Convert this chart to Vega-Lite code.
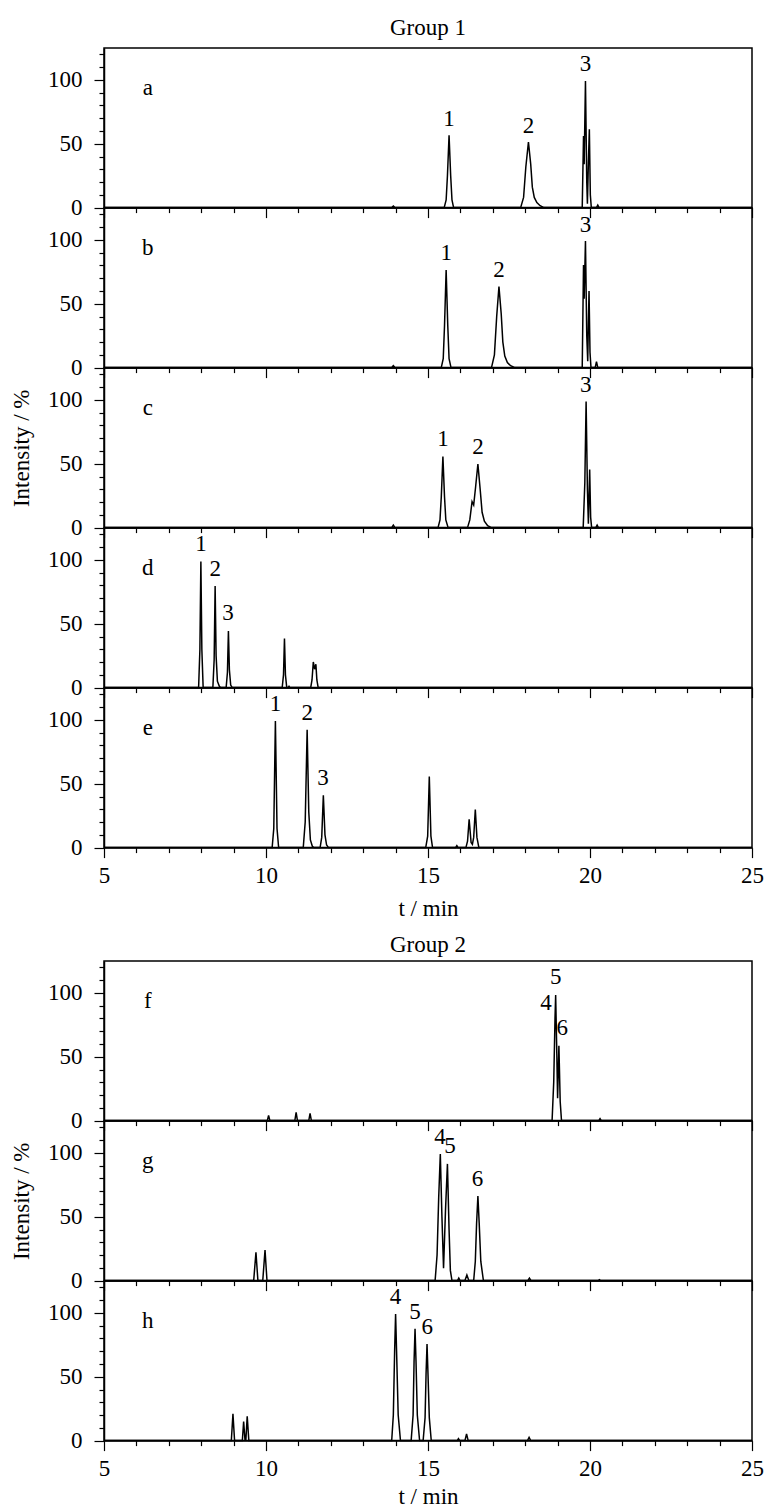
{
"$schema": "https://vega.github.io/schema/vega-lite/v6.json",
"padding": {"left": 9, "top": 16, "right": 5, "bottom": 2},
"config": {
 "font": "Liberation Serif",
 "view": {"stroke": "black", "strokeWidth": 1.5},
 "axis": {"grid": false, "domainColor": "black", "domainWidth": 1.5, "tickColor": "black", "tickWidth": 1.2, "labelColor": "black", "labelFont": "Liberation Serif", "labelFontSize": 23, "titleFont": "Liberation Serif", "titleFontSize": 23, "titleFontWeight": "normal", "titleColor": "black", "labelFlush": false, "labelOverlap": false, "labelBound": false},
 "title": {"font": "Liberation Serif", "fontSize": 23, "fontWeight": "normal", "color": "black"},
 "text": {"font": "Liberation Serif", "fontSize": 23, "color": "black"}
},
"datasets": {
 "trace": [
  {"p":"a","t":5,"y":0},{"p":"a","t":13.88,"y":0},{"p":"a","t":13.93,"y":1.2},{"p":"a","t":13.98,"y":0},{"p":"a","t":15.5,"y":0},{"p":"a","t":15.56,"y":6},{"p":"a","t":15.6,"y":25},{"p":"a","t":15.65,"y":56.7},{"p":"a","t":15.7,"y":25},{"p":"a","t":15.74,"y":6},{"p":"a","t":15.79,"y":0},{"p":"a","t":17.86,"y":0},{"p":"a","t":17.95,"y":8},{"p":"a","t":18.02,"y":32},{"p":"a","t":18.1,"y":51.4},{"p":"a","t":18.17,"y":34},{"p":"a","t":18.22,"y":16},{"p":"a","t":18.28,"y":8},{"p":"a","t":18.36,"y":4},{"p":"a","t":18.46,"y":1.5},{"p":"a","t":18.58,"y":0},{"p":"a","t":19.76,"y":0},{"p":"a","t":19.8,"y":56},{"p":"a","t":19.82,"y":34},{"p":"a","t":19.86,"y":99.2},{"p":"a","t":19.9,"y":20},{"p":"a","t":19.92,"y":3},{"p":"a","t":19.95,"y":35},{"p":"a","t":19.98,"y":61.4},{"p":"a","t":20.01,"y":10},{"p":"a","t":20.04,"y":0},{"p":"a","t":20.2,"y":0},{"p":"a","t":20.24,"y":2},{"p":"a","t":20.28,"y":0},{"p":"a","t":25,"y":0},
  {"p":"b","t":5,"y":0},{"p":"b","t":13.88,"y":0},{"p":"b","t":13.93,"y":1.5},{"p":"b","t":13.98,"y":0},{"p":"b","t":15.41,"y":0},{"p":"b","t":15.47,"y":7},{"p":"b","t":15.51,"y":33},{"p":"b","t":15.56,"y":76.5},{"p":"b","t":15.61,"y":33},{"p":"b","t":15.65,"y":7},{"p":"b","t":15.71,"y":0},{"p":"b","t":16.96,"y":0},{"p":"b","t":17.05,"y":10},{"p":"b","t":17.12,"y":40},{"p":"b","t":17.19,"y":63.4},{"p":"b","t":17.26,"y":42},{"p":"b","t":17.31,"y":20},{"p":"b","t":17.37,"y":9},{"p":"b","t":17.45,"y":4},{"p":"b","t":17.55,"y":1.5},{"p":"b","t":17.68,"y":0},{"p":"b","t":19.76,"y":0},{"p":"b","t":19.8,"y":80.4},{"p":"b","t":19.82,"y":54},{"p":"b","t":19.86,"y":99.2},{"p":"b","t":19.9,"y":25},{"p":"b","t":19.93,"y":5},{"p":"b","t":19.95,"y":35},{"p":"b","t":19.97,"y":60},{"p":"b","t":20.0,"y":12},{"p":"b","t":20.03,"y":0},{"p":"b","t":20.16,"y":0},{"p":"b","t":20.2,"y":4.7},{"p":"b","t":20.24,"y":0},{"p":"b","t":25,"y":0},
  {"p":"c","t":5,"y":0},{"p":"c","t":13.88,"y":0},{"p":"c","t":13.93,"y":2},{"p":"c","t":13.98,"y":0},{"p":"c","t":15.31,"y":0},{"p":"c","t":15.37,"y":6},{"p":"c","t":15.41,"y":24},{"p":"c","t":15.46,"y":55.6},{"p":"c","t":15.51,"y":24},{"p":"c","t":15.55,"y":6},{"p":"c","t":15.62,"y":0},{"p":"c","t":16.22,"y":0},{"p":"c","t":16.29,"y":6},{"p":"c","t":16.36,"y":20.4},{"p":"c","t":16.41,"y":17.7},{"p":"c","t":16.47,"y":32},{"p":"c","t":16.54,"y":49.8},{"p":"c","t":16.61,"y":30},{"p":"c","t":16.67,"y":12},{"p":"c","t":16.74,"y":5},{"p":"c","t":16.84,"y":1.5},{"p":"c","t":16.96,"y":0},{"p":"c","t":19.79,"y":0},{"p":"c","t":19.84,"y":35},{"p":"c","t":19.88,"y":98.7},{"p":"c","t":19.92,"y":30},{"p":"c","t":19.95,"y":3},{"p":"c","t":19.99,"y":45.4},{"p":"c","t":20.02,"y":8},{"p":"c","t":20.05,"y":0},{"p":"c","t":20.18,"y":0},{"p":"c","t":20.22,"y":2},{"p":"c","t":20.26,"y":0},{"p":"c","t":25,"y":0},
  {"p":"d","t":5,"y":0},{"p":"d","t":7.92,"y":0},{"p":"d","t":7.96,"y":30},{"p":"d","t":7.99,"y":98.7},{"p":"d","t":8.02,"y":30},{"p":"d","t":8.06,"y":0},{"p":"d","t":8.36,"y":0},{"p":"d","t":8.4,"y":22},{"p":"d","t":8.43,"y":79.6},{"p":"d","t":8.46,"y":25},{"p":"d","t":8.5,"y":5},{"p":"d","t":8.56,"y":1},{"p":"d","t":8.6,"y":0},{"p":"d","t":8.77,"y":0},{"p":"d","t":8.81,"y":12},{"p":"d","t":8.84,"y":44.4},{"p":"d","t":8.87,"y":14},{"p":"d","t":8.91,"y":2},{"p":"d","t":8.96,"y":0},{"p":"d","t":10.5,"y":0},{"p":"d","t":10.54,"y":10},{"p":"d","t":10.57,"y":38.4},{"p":"d","t":10.6,"y":10},{"p":"d","t":10.64,"y":0},{"p":"d","t":10.68,"y":0},{"p":"d","t":10.71,"y":1},{"p":"d","t":10.74,"y":0},{"p":"d","t":11.38,"y":0},{"p":"d","t":11.42,"y":6},{"p":"d","t":11.46,"y":20.1},{"p":"d","t":11.5,"y":14.4},{"p":"d","t":11.54,"y":18.3},{"p":"d","t":11.57,"y":6},{"p":"d","t":11.61,"y":0},{"p":"d","t":25,"y":0},
  {"p":"e","t":5,"y":0},{"p":"e","t":10.19,"y":0},{"p":"e","t":10.24,"y":15},{"p":"e","t":10.29,"y":99.2},{"p":"e","t":10.34,"y":15},{"p":"e","t":10.39,"y":0},{"p":"e","t":11.15,"y":0},{"p":"e","t":11.21,"y":20},{"p":"e","t":11.27,"y":92.2},{"p":"e","t":11.32,"y":28},{"p":"e","t":11.37,"y":6},{"p":"e","t":11.43,"y":1},{"p":"e","t":11.48,"y":0},{"p":"e","t":11.67,"y":0},{"p":"e","t":11.72,"y":8},{"p":"e","t":11.77,"y":41},{"p":"e","t":11.82,"y":10},{"p":"e","t":11.87,"y":2},{"p":"e","t":11.93,"y":0},{"p":"e","t":14.93,"y":0},{"p":"e","t":14.99,"y":9},{"p":"e","t":15.04,"y":55.6},{"p":"e","t":15.09,"y":9},{"p":"e","t":15.14,"y":0},{"p":"e","t":15.85,"y":0},{"p":"e","t":15.89,"y":1.5},{"p":"e","t":15.93,"y":0},{"p":"e","t":16.17,"y":0},{"p":"e","t":16.22,"y":5},{"p":"e","t":16.27,"y":22.2},{"p":"e","t":16.33,"y":4},{"p":"e","t":16.37,"y":2.6},{"p":"e","t":16.41,"y":8},{"p":"e","t":16.46,"y":29.8},{"p":"e","t":16.51,"y":8},{"p":"e","t":16.57,"y":0},{"p":"e","t":25,"y":0},
  {"p":"f","t":5,"y":0},{"p":"f","t":10.04,"y":0},{"p":"f","t":10.08,"y":4},{"p":"f","t":10.12,"y":0},{"p":"f","t":10.89,"y":0},{"p":"f","t":10.93,"y":6.5},{"p":"f","t":10.97,"y":0},{"p":"f","t":11.32,"y":0},{"p":"f","t":11.36,"y":5.7},{"p":"f","t":11.4,"y":0},{"p":"f","t":18.83,"y":0},{"p":"f","t":18.88,"y":30},{"p":"f","t":18.92,"y":80},{"p":"f","t":18.94,"y":98.4},{"p":"f","t":18.97,"y":60},{"p":"f","t":19.0,"y":17.5},{"p":"f","t":19.04,"y":58.7},{"p":"f","t":19.08,"y":15},{"p":"f","t":19.12,"y":0},{"p":"f","t":20.27,"y":0},{"p":"f","t":20.31,"y":1.5},{"p":"f","t":20.35,"y":0},{"p":"f","t":25,"y":0},
  {"p":"g","t":5,"y":0},{"p":"g","t":9.62,"y":0},{"p":"g","t":9.69,"y":22.2},{"p":"g","t":9.75,"y":0},{"p":"g","t":9.9,"y":0},{"p":"g","t":9.97,"y":24},{"p":"g","t":10.03,"y":0},{"p":"g","t":15.22,"y":0},{"p":"g","t":15.28,"y":20},{"p":"g","t":15.33,"y":65},{"p":"g","t":15.38,"y":99.2},{"p":"g","t":15.43,"y":50},{"p":"g","t":15.48,"y":9.7},{"p":"g","t":15.54,"y":55},{"p":"g","t":15.6,"y":91.4},{"p":"g","t":15.65,"y":40},{"p":"g","t":15.69,"y":8},{"p":"g","t":15.74,"y":0},{"p":"g","t":15.91,"y":0},{"p":"g","t":15.95,"y":2},{"p":"g","t":15.99,"y":0},{"p":"g","t":16.14,"y":0},{"p":"g","t":16.2,"y":4.4},{"p":"g","t":16.26,"y":0},{"p":"g","t":16.41,"y":0},{"p":"g","t":16.46,"y":15},{"p":"g","t":16.5,"y":45},{"p":"g","t":16.54,"y":66.3},{"p":"g","t":16.58,"y":45},{"p":"g","t":16.63,"y":15},{"p":"g","t":16.71,"y":0},{"p":"g","t":18.08,"y":0},{"p":"g","t":18.13,"y":2},{"p":"g","t":18.18,"y":0},{"p":"g","t":20.25,"y":0},{"p":"g","t":20.29,"y":0.7},{"p":"g","t":20.33,"y":0},{"p":"g","t":25,"y":0},
  {"p":"h","t":5,"y":0},{"p":"h","t":8.93,"y":0},{"p":"h","t":8.98,"y":20.9},{"p":"h","t":9.03,"y":0},{"p":"h","t":9.27,"y":0},{"p":"h","t":9.31,"y":14.9},{"p":"h","t":9.35,"y":1},{"p":"h","t":9.38,"y":1},{"p":"h","t":9.42,"y":19},{"p":"h","t":9.47,"y":0},{"p":"h","t":13.88,"y":0},{"p":"h","t":13.93,"y":20},{"p":"h","t":13.97,"y":70},{"p":"h","t":14.0,"y":99.2},{"p":"h","t":14.03,"y":70},{"p":"h","t":14.08,"y":20},{"p":"h","t":14.15,"y":0},{"p":"h","t":14.48,"y":0},{"p":"h","t":14.54,"y":20},{"p":"h","t":14.57,"y":62},{"p":"h","t":14.6,"y":87.5},{"p":"h","t":14.63,"y":62},{"p":"h","t":14.67,"y":20},{"p":"h","t":14.74,"y":0},{"p":"h","t":14.85,"y":0},{"p":"h","t":14.91,"y":18},{"p":"h","t":14.94,"y":52},{"p":"h","t":14.97,"y":75.7},{"p":"h","t":15.0,"y":52},{"p":"h","t":15.04,"y":18},{"p":"h","t":15.1,"y":0},{"p":"h","t":15.9,"y":0},{"p":"h","t":15.94,"y":1.5},{"p":"h","t":15.98,"y":0},{"p":"h","t":16.14,"y":0},{"p":"h","t":16.19,"y":5.2},{"p":"h","t":16.24,"y":0},{"p":"h","t":18.07,"y":0},{"p":"h","t":18.12,"y":2.5},{"p":"h","t":18.17,"y":0},{"p":"h","t":25,"y":0}
 ],
 "lab": [
  {"p":"a","t":6.35,"y":94,"s":"a"},{"p":"a","t":15.65,"y":69.5,"s":"1"},{"p":"a","t":18.1,"y":64,"s":"2"},{"p":"a","t":19.86,"y":112.3,"s":"3"},
  {"p":"b","t":6.35,"y":94,"s":"b"},{"p":"b","t":15.56,"y":89.5,"s":"1"},{"p":"b","t":17.19,"y":76.5,"s":"2"},{"p":"b","t":19.86,"y":112,"s":"3"},
  {"p":"c","t":6.35,"y":94,"s":"c"},{"p":"c","t":15.46,"y":69.4,"s":"1"},{"p":"c","t":16.54,"y":62.9,"s":"2"},{"p":"c","t":19.87,"y":111.7,"s":"3"},
  {"p":"d","t":6.35,"y":94,"s":"d"},{"p":"d","t":7.99,"y":112.2,"s":"1"},{"p":"d","t":8.43,"y":92.7,"s":"2"},{"p":"d","t":8.83,"y":58.7,"s":"3"},
  {"p":"e","t":6.35,"y":94,"s":"e"},{"p":"e","t":10.29,"y":112.8,"s":"1"},{"p":"e","t":11.27,"y":105.2,"s":"2"},{"p":"e","t":11.76,"y":54.6,"s":"3"},
  {"p":"f","t":6.35,"y":94,"s":"f"},{"p":"f","t":18.94,"y":112.8,"s":"5"},{"p":"f","t":18.64,"y":91.9,"s":"4"},{"p":"f","t":19.14,"y":72.3,"s":"6"},
  {"p":"g","t":6.35,"y":94,"s":"g"},{"p":"g","t":15.37,"y":112.8,"s":"4"},{"p":"g","t":15.68,"y":105.7,"s":"5"},{"p":"g","t":16.53,"y":79.6,"s":"6"},
  {"p":"h","t":6.35,"y":94,"s":"h"},{"p":"h","t":14.0,"y":112.8,"s":"4"},{"p":"h","t":14.6,"y":100.5,"s":"5"},{"p":"h","t":14.98,"y":88.7,"s":"6"}
 ]
},
"spacing": 11,
"vconcat": [
 {"spacing": 0, "bounds": "flush", "vconcat": [
  {"width": 648, "height": 159.6,
   "title": {"text": "Group 1", "frame": "group", "anchor": "middle", "offset": 3},
   "encoding": {
    "x": {"field": "t", "type": "quantitative", "scale": {"domain": [5, 25], "nice": false, "zero": false}, "axis": {"values": [5,6,7,8,9,10,11,12,13,14,15,16,17,18,19,20,21,22,23,24,25], "labels": false, "title": null, "tickSize": {"condition": {"test": "datum.value % 5 === 0", "value": 10}, "value": 5}}},
    "y": {"field": "y", "type": "quantitative", "scale": {"domain": [0, 125], "nice": false}, "axis": {"values": [0,10,20,30,40,50,60,70,80,90,100,110,120], "labelExpr": "datum.value % 50 === 0 ? datum.label : ''", "tickSize": {"condition": {"test": "datum.value % 50 === 0", "value": 10}, "value": 5}, "labelPadding": 12, "title": null}}
   },
   "layer": [
    {"data": {"name": "trace"}, "transform": [{"filter": "datum.p === 'a'"}], "mark": {"type": "line", "color": "black", "strokeWidth": 1.5}},
    {"data": {"name": "lab"}, "transform": [{"filter": "datum.p === 'a'"}], "mark": {"type": "text", "baseline": "middle", "align": "center"}, "encoding": {"text": {"field": "s", "type": "nominal"}}}
   ]},
  {"width": 648, "height": 159.6,
   "encoding": {
    "x": {"field": "t", "type": "quantitative", "scale": {"domain": [5, 25], "nice": false, "zero": false}, "axis": {"values": [5,6,7,8,9,10,11,12,13,14,15,16,17,18,19,20,21,22,23,24,25], "labels": false, "title": null, "tickSize": {"condition": {"test": "datum.value % 5 === 0", "value": 10}, "value": 5}}},
    "y": {"field": "y", "type": "quantitative", "scale": {"domain": [0, 125], "nice": false}, "axis": {"values": [0,10,20,30,40,50,60,70,80,90,100,110,120], "labelExpr": "datum.value % 50 === 0 ? datum.label : ''", "tickSize": {"condition": {"test": "datum.value % 50 === 0", "value": 10}, "value": 5}, "labelPadding": 12, "title": null}}
   },
   "layer": [
    {"data": {"name": "trace"}, "transform": [{"filter": "datum.p === 'b'"}], "mark": {"type": "line", "color": "black", "strokeWidth": 1.5}},
    {"data": {"name": "lab"}, "transform": [{"filter": "datum.p === 'b'"}], "mark": {"type": "text", "baseline": "middle", "align": "center"}, "encoding": {"text": {"field": "s", "type": "nominal"}}}
   ]},
  {"width": 648, "height": 159.6,
   "encoding": {
    "x": {"field": "t", "type": "quantitative", "scale": {"domain": [5, 25], "nice": false, "zero": false}, "axis": {"values": [5,6,7,8,9,10,11,12,13,14,15,16,17,18,19,20,21,22,23,24,25], "labels": false, "title": null, "tickSize": {"condition": {"test": "datum.value % 5 === 0", "value": 10}, "value": 5}}},
    "y": {"field": "y", "type": "quantitative", "scale": {"domain": [0, 125], "nice": false}, "axis": {"values": [0,10,20,30,40,50,60,70,80,90,100,110,120], "labelExpr": "datum.value % 50 === 0 ? datum.label : ''", "tickSize": {"condition": {"test": "datum.value % 50 === 0", "value": 10}, "value": 5}, "labelPadding": 12, "title": "Intensity / %", "titlePadding": 14}}
   },
   "layer": [
    {"data": {"name": "trace"}, "transform": [{"filter": "datum.p === 'c'"}], "mark": {"type": "line", "color": "black", "strokeWidth": 1.5}},
    {"data": {"name": "lab"}, "transform": [{"filter": "datum.p === 'c'"}], "mark": {"type": "text", "baseline": "middle", "align": "center"}, "encoding": {"text": {"field": "s", "type": "nominal"}}}
   ]},
  {"width": 648, "height": 159.6,
   "encoding": {
    "x": {"field": "t", "type": "quantitative", "scale": {"domain": [5, 25], "nice": false, "zero": false}, "axis": {"values": [5,6,7,8,9,10,11,12,13,14,15,16,17,18,19,20,21,22,23,24,25], "labels": false, "title": null, "tickSize": {"condition": {"test": "datum.value % 5 === 0", "value": 10}, "value": 5}}},
    "y": {"field": "y", "type": "quantitative", "scale": {"domain": [0, 125], "nice": false}, "axis": {"values": [0,10,20,30,40,50,60,70,80,90,100,110,120], "labelExpr": "datum.value % 50 === 0 ? datum.label : ''", "tickSize": {"condition": {"test": "datum.value % 50 === 0", "value": 10}, "value": 5}, "labelPadding": 12, "title": null}}
   },
   "layer": [
    {"data": {"name": "trace"}, "transform": [{"filter": "datum.p === 'd'"}], "mark": {"type": "line", "color": "black", "strokeWidth": 1.5}},
    {"data": {"name": "lab"}, "transform": [{"filter": "datum.p === 'd'"}], "mark": {"type": "text", "baseline": "middle", "align": "center"}, "encoding": {"text": {"field": "s", "type": "nominal"}}}
   ]},
  {"width": 648, "height": 159.6,
   "encoding": {
    "x": {"field": "t", "type": "quantitative", "scale": {"domain": [5, 25], "nice": false, "zero": false}, "axis": {"values": [5,6,7,8,9,10,11,12,13,14,15,16,17,18,19,20,21,22,23,24,25], "labelExpr": "datum.value % 5 === 0 ? datum.label : ''", "labelPadding": 7, "title": "t / min", "titlePadding": 10, "tickSize": {"condition": {"test": "datum.value % 5 === 0", "value": 10}, "value": 5}}},
    "y": {"field": "y", "type": "quantitative", "scale": {"domain": [0, 125], "nice": false}, "axis": {"values": [0,10,20,30,40,50,60,70,80,90,100,110,120], "labelExpr": "datum.value % 50 === 0 ? datum.label : ''", "tickSize": {"condition": {"test": "datum.value % 50 === 0", "value": 10}, "value": 5}, "labelPadding": 12, "title": null}}
   },
   "layer": [
    {"data": {"name": "trace"}, "transform": [{"filter": "datum.p === 'e'"}], "mark": {"type": "line", "color": "black", "strokeWidth": 1.5}},
    {"data": {"name": "lab"}, "transform": [{"filter": "datum.p === 'e'"}], "mark": {"type": "text", "baseline": "middle", "align": "center"}, "encoding": {"text": {"field": "s", "type": "nominal"}}}
   ]}
 ]},
 {"spacing": 0, "bounds": "flush", "vconcat": [
  {"width": 648, "height": 159.6,
   "title": {"text": "Group 2", "frame": "group", "anchor": "middle", "offset": -1},
   "encoding": {
    "x": {"field": "t", "type": "quantitative", "scale": {"domain": [5, 25], "nice": false, "zero": false}, "axis": {"values": [5,6,7,8,9,10,11,12,13,14,15,16,17,18,19,20,21,22,23,24,25], "labels": false, "title": null, "tickSize": {"condition": {"test": "datum.value % 5 === 0", "value": 10}, "value": 5}}},
    "y": {"field": "y", "type": "quantitative", "scale": {"domain": [0, 125], "nice": false}, "axis": {"values": [0,10,20,30,40,50,60,70,80,90,100,110,120], "labelExpr": "datum.value % 50 === 0 ? datum.label : ''", "tickSize": {"condition": {"test": "datum.value % 50 === 0", "value": 10}, "value": 5}, "labelPadding": 12, "title": null}}
   },
   "layer": [
    {"data": {"name": "trace"}, "transform": [{"filter": "datum.p === 'f'"}], "mark": {"type": "line", "color": "black", "strokeWidth": 1.5}},
    {"data": {"name": "lab"}, "transform": [{"filter": "datum.p === 'f'"}], "mark": {"type": "text", "baseline": "middle", "align": "center"}, "encoding": {"text": {"field": "s", "type": "nominal"}}}
   ]},
  {"width": 648, "height": 159.6,
   "encoding": {
    "x": {"field": "t", "type": "quantitative", "scale": {"domain": [5, 25], "nice": false, "zero": false}, "axis": {"values": [5,6,7,8,9,10,11,12,13,14,15,16,17,18,19,20,21,22,23,24,25], "labels": false, "title": null, "tickSize": {"condition": {"test": "datum.value % 5 === 0", "value": 10}, "value": 5}}},
    "y": {"field": "y", "type": "quantitative", "scale": {"domain": [0, 125], "nice": false}, "axis": {"values": [0,10,20,30,40,50,60,70,80,90,100,110,120], "labelExpr": "datum.value % 50 === 0 ? datum.label : ''", "tickSize": {"condition": {"test": "datum.value % 50 === 0", "value": 10}, "value": 5}, "labelPadding": 12, "title": "Intensity / %", "titlePadding": 14}}
   },
   "layer": [
    {"data": {"name": "trace"}, "transform": [{"filter": "datum.p === 'g'"}], "mark": {"type": "line", "color": "black", "strokeWidth": 1.5}},
    {"data": {"name": "lab"}, "transform": [{"filter": "datum.p === 'g'"}], "mark": {"type": "text", "baseline": "middle", "align": "center"}, "encoding": {"text": {"field": "s", "type": "nominal"}}}
   ]},
  {"width": 648, "height": 159.6,
   "encoding": {
    "x": {"field": "t", "type": "quantitative", "scale": {"domain": [5, 25], "nice": false, "zero": false}, "axis": {"values": [5,6,7,8,9,10,11,12,13,14,15,16,17,18,19,20,21,22,23,24,25], "labelExpr": "datum.value % 5 === 0 ? datum.label : ''", "labelPadding": 7, "title": "t / min", "titlePadding": 5, "tickSize": {"condition": {"test": "datum.value % 5 === 0", "value": 10}, "value": 5}}},
    "y": {"field": "y", "type": "quantitative", "scale": {"domain": [0, 125], "nice": false}, "axis": {"values": [0,10,20,30,40,50,60,70,80,90,100,110,120], "labelExpr": "datum.value % 50 === 0 ? datum.label : ''", "tickSize": {"condition": {"test": "datum.value % 50 === 0", "value": 10}, "value": 5}, "labelPadding": 12, "title": null}}
   },
   "layer": [
    {"data": {"name": "trace"}, "transform": [{"filter": "datum.p === 'h'"}], "mark": {"type": "line", "color": "black", "strokeWidth": 1.5}},
    {"data": {"name": "lab"}, "transform": [{"filter": "datum.p === 'h'"}], "mark": {"type": "text", "baseline": "middle", "align": "center"}, "encoding": {"text": {"field": "s", "type": "nominal"}}}
   ]}
 ]}
]
}
